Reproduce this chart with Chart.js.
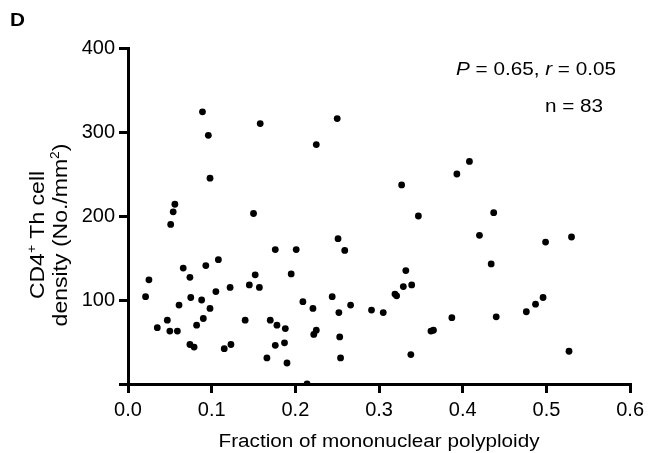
<!DOCTYPE html>
<html>
<head>
<meta charset="utf-8">
<script src="https://cdn.jsdelivr.net/npm/chart.js@4.4.0/dist/chart.umd.min.js"></script>
<style>
  html, body { margin: 0; padding: 0; background: #fff; }
</style>
</head>
<body>
<canvas id="scatterPloidy" width="649" height="453"></canvas>
<script>
// values (x = fraction of mononuclear polyploidy, y = CD4+ Th cells / mm2)
const fractionPolyploidy = [
  0.089, 0.096, 0.158, 0.098, 0.056, 0.054, 0.051, 0.150, 0.021, 0.025,
  0.035, 0.047, 0.050, 0.059, 0.061, 0.066, 0.074, 0.075, 0.074, 0.079,
  0.082, 0.088, 0.090, 0.093, 0.098, 0.105, 0.108, 0.115, 0.123, 0.122,
  0.140, 0.145, 0.152, 0.157, 0.166, 0.170, 0.176, 0.176, 0.178, 0.188,
  0.187, 0.190, 0.195, 0.201, 0.209, 0.214, 0.250, 0.225, 0.251, 0.259,
  0.408, 0.393, 0.327, 0.347, 0.437, 0.420, 0.499, 0.221, 0.225, 0.222,
  0.244, 0.252, 0.253, 0.254, 0.266, 0.291, 0.305, 0.319, 0.321, 0.329,
  0.332, 0.339, 0.338, 0.362, 0.365, 0.387, 0.434, 0.440, 0.476, 0.487,
  0.496, 0.527, 0.530
];
const cd4Density = [
  324, 296, 310, 245, 214, 205, 190, 203, 104, 124,
  67, 76, 63, 63, 94, 138, 127, 103, 47, 44,
  70, 100, 78, 141, 90, 110, 148, 42, 47, 115,
  76, 118, 130, 115, 31, 76, 160, 46, 70, 66,
  49, 25, 131, 160, 98, 0, 316, 285, 173, 159,
  265, 250, 237, 200, 204, 177, 169, 90, 64, 59,
  104, 85, 56, 31, 94, 88, 85, 107, 105, 116,
  135, 118, 35, 63, 64, 79, 143, 80, 86, 95,
  103, 39, 175
];
const xTicks = [0, 0.1, 0.2, 0.3, 0.4, 0.5, 0.6];
const xTickLabels = ['0.0', '0.1', '0.2', '0.3', '0.4', '0.5', '0.6'];
const yTicks = [0, 100, 200, 300, 400];
const yTickLabels = ['', '100', '200', '300', '400'];

const FONT = '"Liberation Sans", Arial, Helvetica, sans-serif';
const SX = 1.15; // the source lettering is a bit wide

const points = fractionPolyploidy.map((x, i) => ({ x: x, y: cd4Density[i] }));

// draws a run of text pieces (italic / superscript) with a horizontal stretch
function drawRich(ctx, parts, size, align) {
  let widths = parts.map(p => {
    ctx.font = fontFor(p, size);
    return ctx.measureText(p.t).width;
  });
  let total = widths.reduce((a, b) => a + b, 0);
  let cx = align === 'center' ? -total / 2 : 0;
  ctx.textAlign = 'left';
  ctx.textBaseline = 'alphabetic';
  parts.forEach((p, i) => {
    ctx.font = fontFor(p, size);
    ctx.fillText(p.t, cx, p.sup ? -size * 0.42 : 0);
    cx += widths[i];
  });
}
function fontFor(p, size) {
  let s = p.sup ? Math.round(size * 0.6) : size;
  return (p.italic ? 'italic ' : '') + (p.bold ? 'bold ' : '') + s + 'px ' + FONT;
}

const textPlugin = {
  id: 'figureText',
  afterDraw(chart) {
    const ctx = chart.ctx;
    const area = chart.chartArea;
    ctx.save();
    ctx.fillStyle = '#000';

    // panel letter
    ctx.save();
    ctx.translate(10, 26);
    ctx.scale(SX, 1);
    drawRich(ctx, [{ t: 'D', bold: true }], 18, 'left');
    ctx.restore();

    // stats
    ctx.save();
    ctx.translate(456, 75);
    ctx.scale(SX, 1);
    drawRich(ctx, [
      { t: 'P', italic: true }, { t: ' = 0.65, ' },
      { t: 'r', italic: true }, { t: ' = 0.05' }
    ], 18, 'left');
    ctx.restore();

    ctx.save();
    ctx.translate(545, 112);
    ctx.scale(SX, 1);
    drawRich(ctx, [{ t: 'n = 83' }], 18, 'left');
    ctx.restore();

    // x axis title
    ctx.save();
    ctx.translate((area.left + area.right) / 2, 447);
    ctx.scale(SX, 1);
    drawRich(ctx, [{ t: 'Fraction of mononuclear polyploidy' }], 18, 'center');
    ctx.restore();

    // y axis title, two lines
    const cy = 235;
    ctx.save();
    ctx.translate(44, cy);
    ctx.rotate(-Math.PI / 2);
    ctx.scale(SX, 1);
    drawRich(ctx, [{ t: 'CD4' }, { t: '+', sup: true }, { t: ' Th cell' }], 20, 'center');
    ctx.restore();

    ctx.save();
    ctx.translate(67, cy);
    ctx.rotate(-Math.PI / 2);
    ctx.scale(SX, 1);
    drawRich(ctx, [{ t: 'density (No./mm' }, { t: '2', sup: true }, { t: ')' }], 20, 'center');
    ctx.restore();

    ctx.restore();
  }
};

const ctxScatter = document.getElementById('scatterPloidy').getContext('2d');

const scatterPloidy = new Chart(ctxScatter, {
  type: 'scatter',
  data: {
    datasets: [{
      data: points,
      backgroundColor: '#000',
      borderColor: '#000',
      borderWidth: 0,
      pointRadius: 3.4,
      pointHoverRadius: 3.4
    }]
  },
  options: {
    responsive: false,
    animation: false,
    devicePixelRatio: 1,
    layout: { padding: { top: 48, right: 17, bottom: 0, left: 0 } },
    plugins: {
      legend: { display: false },
      tooltip: { enabled: false }
    },
    scales: {
      x: {
        type: 'linear',
        min: 0,
        max: 0.6,
        afterBuildTicks: s => { s.ticks = xTicks.map(v => ({ value: v })); },
        afterFit: s => { s.height = 69; },
        ticks: {
          color: '#000',
          padding: 5,
          maxRotation: 0,
          font: { family: FONT, size: 20 },
          callback: (v, i) => xTickLabels[i]
        },
        grid: { display: true, drawOnChartArea: false, drawTicks: true, tickLength: 9, lineWidth: 3, color: '#000' },
        border: { display: true, color: '#000', width: 3 }
      },
      y: {
        type: 'linear',
        min: 0,
        max: 400,
        afterBuildTicks: s => { s.ticks = yTicks.map(v => ({ value: v })); },
        afterFit: s => { s.width = 128; },
        ticks: {
          color: '#000',
          padding: 4,
          font: { family: FONT, size: 20 },
          callback: (v, i) => yTickLabels[i]
        },
        grid: { display: true, drawOnChartArea: false, drawTicks: true, tickLength: 9, lineWidth: 3, color: '#000' },
        border: { display: true, color: '#000', width: 3 }
      }
    }
  },
  plugins: [textPlugin]
});
</script>
</body>
</html>
